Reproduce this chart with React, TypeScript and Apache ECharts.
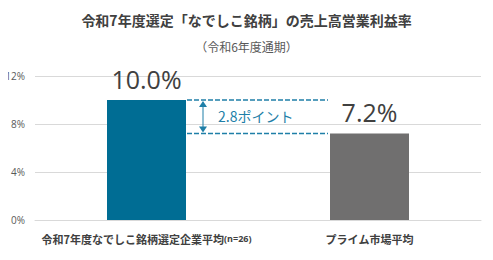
import React, { useEffect, useRef } from "react";
import * as echarts from "echarts";

const categories = ["令和7年度なでしこ銘柄選定企業平均", "プライム市場平均"];
const categorySuffix = ["(n=26)", ""];
const values = [10.0, 7.2];
const yTicks = [0, 4, 8, 12];
const diffLabel = "2.8ポイント";
const titleText = "令和7年度選定「なでしこ銘柄」の売上高営業利益率";
const subtitleText = "（令和6年度通期）";

const FONT = "'Noto Sans CJK JP', 'Noto Sans', sans-serif";
const NUM_FONT = "'Open Sans', 'Noto Sans', sans-serif";
const barColors = ["#006d94", "#706f6f"];
const accent = "#1f7fa8";

export default function App() {
  const ref = useRef<HTMLDivElement>(null);
  useEffect(() => {
    const chart = echarts.init(ref.current!, null, { renderer: "svg" });
    const option: any = {
      animation: false,
      title: [
        {
          text: titleText,
          left: "center",
          top: 8,
          textStyle: { fontFamily: FONT, fontSize: 14, fontWeight: "bold", color: "#404040" },
        },
        {
          text: subtitleText,
          left: "center",
          top: 35,
          textStyle: { fontFamily: FONT, fontSize: 12, fontWeight: "normal", color: "#595959" },
        },
      ],
      grid: { left: 35, right: 12, top: 76, bottom: 40 },
      xAxis: {
        type: "category",
        data: categories.map((c, i) => (categorySuffix[i] ? `{a|${c}}{b|${categorySuffix[i]}}` : `{a|${c}}`)),
        axisLine: { lineStyle: { color: "#d9d9d9" } },
        axisTick: { show: false },
        axisLabel: {
          interval: 0,
          hideOverlap: false,
          margin: 13,
          rich: {
            a: { fontFamily: FONT, fontSize: 11, fontWeight: "bold", color: "#404040" },
            b: { fontFamily: NUM_FONT, fontSize: 9, fontWeight: "bold", color: "#404040" },
          },
        },
      },
      yAxis: {
        type: "value",
        min: 0,
        max: 12,
        interval: 4,
        axisLabel: {
          formatter: (v: number) => (yTicks.includes(v) ? `${v}%` : ""),
          fontFamily: NUM_FONT,
          fontSize: 10,
          color: "#595959",
          margin: 10,
        },
        splitLine: { lineStyle: { color: "#d9d9d9" } },
      },
      series: [
        {
          type: "bar",
          barWidth: 79,
          data: values.map((v, i) => ({ value: v, itemStyle: { color: barColors[i] } })),
          label: {
            show: true,
            position: "top",
            distance: 9,
            formatter: (p: any) => `${p.value.toFixed(1)}%`,
            fontFamily: NUM_FONT,
            fontSize: 25,
            color: "#404040",
          },
        },
      ],
    };
    chart.setOption(option);

    const [x0, yA] = chart.convertToPixel({ gridIndex: 0 }, [0, values[0]]);
    const [x1, yB] = chart.convertToPixel({ gridIndex: 0 }, [1, values[1]]);
    const half = 79 / 2;
    const lx = x0 + half + 1;
    const rx = x1 - half - 2;
    const ax = lx + 16;
    const dash = { stroke: accent, lineWidth: 1.5, lineDash: [5, 2] };
    chart.setOption({
      graphic: [
        { type: "line", shape: { x1: lx, y1: yA, x2: rx, y2: yA }, style: dash, z: 10 },
        { type: "line", shape: { x1: lx, y1: yB, x2: rx, y2: yB }, style: dash, z: 10 },
        { type: "line", shape: { x1: ax, y1: yA + 4, x2: ax, y2: yB - 4 }, style: { stroke: accent, lineWidth: 1 }, z: 10 },
        { type: "polygon", shape: { points: [[ax, yA + 1], [ax - 4, yA + 7], [ax + 4, yA + 7]] }, style: { fill: accent }, z: 10 },
        { type: "polygon", shape: { points: [[ax, yB - 1], [ax - 4, yB - 7], [ax + 4, yB - 7]] }, style: { fill: accent }, z: 10 },
        {
          type: "text",
          x: ax + 15,
          y: (yA + yB) / 2 - 1,
          style: {
            text: diffLabel,
            fontFamily: FONT,
            fontSize: 14,
            fill: accent,
            verticalAlign: "middle",
          },
          z: 10,
        },
      ],
    });
    return () => chart.dispose();
  }, []);
  return <div ref={ref} style={{ width: 493, height: 260, margin: -8 }} />;
}
